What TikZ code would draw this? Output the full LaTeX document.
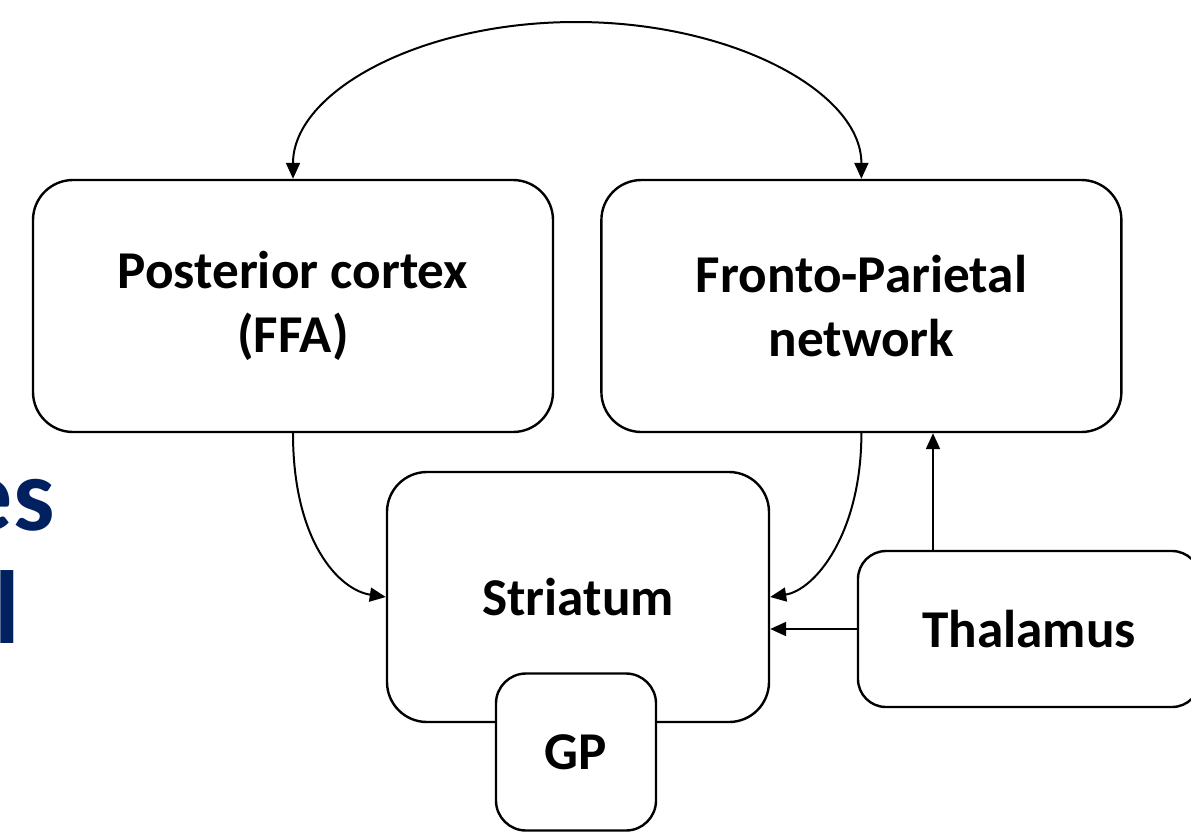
\documentclass[tikz,border=0pt]{standalone}
\usepackage{fontspec}
\setmainfont{Carlito}
\usetikzlibrary{arrows.meta, positioning}
\definecolor{slideblue}{RGB}{0,32,96}

\begin{document}
\begin{tikzpicture}[
  x=0.5pt, y=-0.5pt,
  >={Triangle[length=8pt, width=7pt]},
  box/.style={rounded corners=20pt, draw=black, line width=1.2pt, fill=white, align=center, font=\fontsize{26.6}{32}\selectfont\bfseries, inner sep=3pt},
  bigbox/.style={box, minimum width=260pt, minimum height=126pt},
  smallbox/.style={box, rounded corners=15pt, minimum width=80pt, minimum height=78.5pt},
  arrow/.style={->, line width=1pt, draw=black},
  slide/.style={font=\fontsize{52}{56}\selectfont\bfseries, text=slideblue, inner sep=0pt}
]
  \useasboundingbox (0,0) rectangle (1191,837);

  %=======================================

  % texte de la diapo (coupe a gauche)
  \node[slide, anchor=base east] (slideA) at (55,530) {es};
  \node[slide, anchor=base east] (slideB) at (20,643) {l};

  % CORTEX ===============================
  \node[bigbox] (post) at (293,306) {Posterior cortex\\(FFA)};
  \node[bigbox, right=23pt of post] (fron) {Fronto-Parietal\\network};

  % Noyaux gris centraux
  \node[box, minimum width=191pt, minimum height=125pt] (stri) at (578,597) {Striatum};
  \node[smallbox] (gp) at (576,752) {GP};
  \node[box, rounded corners=14pt, minimum width=171pt, minimum height=78pt] (thal) at (1029,629) {Thalamus};

  % Fleches
  \coordinate (arcTop) at (576,22);
  \draw[arrow, <->] (post.north) .. controls +(0,-87) and +(-156,0) .. (arcTop)
                    .. controls +(156,0) and +(0,-87) .. (fron.north);
  \draw[arrow] (post.south) .. controls +(0,108) and +(-47,-7) .. (stri.west);
  \draw[arrow] (fron.south) .. controls +(0,100) and +(45,-7) .. (stri.east);
  \draw[arrow] (thal.west) -- (thal.west -| stri.east);
  \draw[arrow] ([xshift=-48pt]thal.north) -- ([xshift=-48pt]thal.north |- fron.south);

  %=======================================

\end{tikzpicture}
\end{document}
